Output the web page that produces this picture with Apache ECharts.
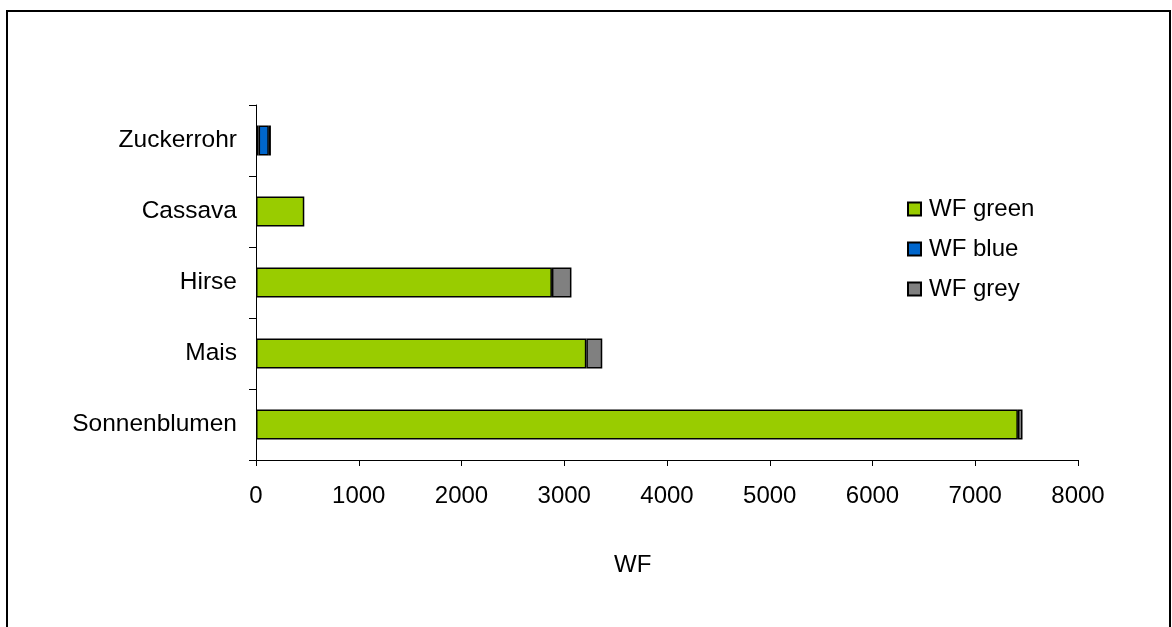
<!DOCTYPE html>
<html>
<head>
<meta charset="utf-8">
<script src="https://cdn.jsdelivr.net/npm/echarts@6/dist/echarts.min.js"></script>
<style>
  html, body { margin: 0; padding: 0; background: #fff; }
  #chart { width: 1172px; height: 627px; }
</style>
</head>
<body>
<div id="chart"></div>
<script>
// Water footprint per crop, split into green / blue / grey parts
const crops = ['Sonnenblumen', 'Mais', 'Hirse', 'Cassava', 'Zuckerrohr'];
const wfGreen = [7415, 3215, 2880, 470, 25];
const wfBlue = [null, null, null, null, 100];
const wfGrey = [45, 155, 190, null, 20];
const xTicks = { min: 0, max: 8000, step: 1000 };

const FONT = '"Liberation Sans", Arial, sans-serif';

const chart = echarts.init(document.getElementById('chart'), null, { renderer: 'canvas' });

function barSeries(name, data, color) {
  return {
    name: name,
    type: 'bar',
    stack: 'wf',
    barWidth: 30,
    data: data,
    itemStyle: { color: color, borderColor: '#000', borderWidth: 1.5 }
  };
}

chart.setOption({
  animation: false,
  backgroundColor: '#fff',
  textStyle: { fontFamily: FONT, color: '#000' },
  grid: { left: 256, right: 94, top: 105, bottom: 167, containLabel: false },
  xAxis: {
    type: 'value',
    min: xTicks.min,
    max: xTicks.max,
    interval: xTicks.step,
    splitLine: { show: false },
    axisLine: { show: true, lineStyle: { color: '#000', width: 1 } },
    axisTick: { show: true, length: 6, lineStyle: { color: '#000' } },
    axisLabel: {
      color: '#000', fontSize: 24, fontFamily: FONT, margin: 24,
      formatter: function (v) { return String(v); }
    }
  },
  yAxis: {
    type: 'category',
    data: crops,
    axisLine: { show: true, lineStyle: { color: '#000', width: 1 } },
    axisTick: { show: true, length: 7, lineStyle: { color: '#000' } },
    axisLabel: { color: '#000', fontSize: 24.5, fontFamily: FONT, margin: 19 }
  },
  legend: {
    orient: 'vertical',
    left: 902,
    top: 192,
    itemWidth: 13,
    itemHeight: 13,
    itemGap: 16,
    icon: 'rect',
    textStyle: { fontSize: 24, fontFamily: FONT, color: '#000', padding: [0, 0, 0, 3] },
    data: ['WF green', 'WF blue', 'WF grey']
  },
  graphic: [
    {
      type: 'rect',
      shape: { x: 7, y: 11, width: 1163, height: 640 },
      style: { fill: 'none', stroke: '#000', lineWidth: 2 },
      silent: true
    },
    {
      type: 'text',
      left: 614,
      top: 553,
      style: { text: 'WF', font: '24px ' + FONT, fill: '#000' }
    }
  ],
  series: [
    barSeries('WF green', wfGreen, '#99CC00'),
    barSeries('WF blue', wfBlue, '#0066CC'),
    barSeries('WF grey', wfGrey, '#808080')
  ]
});
</script>
</body>
</html>
